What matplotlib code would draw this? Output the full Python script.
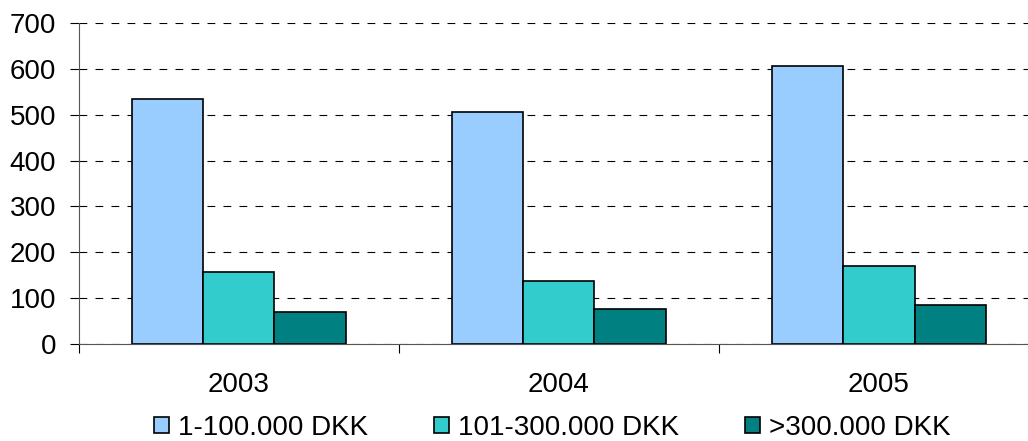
import matplotlib.pyplot as plt
import numpy as np

plt.rcParams['font.family'] = ['Liberation Sans', 'DejaVu Sans']

# Data
years = ['2003', '2004', '2005']
series_labels = ['1-100.000 DKK', '101-300.000 DKK', '>300.000 DKK']
small = [534, 505, 605]
medium = [157, 138, 171]
large = [71, 76, 85]
colors = ['#99CCFF', '#33CCCC', '#008080']

fs = 20

fig = plt.figure(figsize=(10.28, 4.41), dpi=100)
# plot area runs past the right edge of the picture, as in the original
ax = fig.add_axes([0.0768, 0.2193, 0.9339, 0.7292])

x = np.arange(len(years))
width = 0.222
for i, (vals, lab) in enumerate(zip([small, medium, large], series_labels)):
    ax.bar(x + (i - 1) * width, vals, width, color=colors[i],
           edgecolor='black', linewidth=1.2, label=lab, zorder=3)

ax.set_xlim(-0.5, 2.5)
ax.set_ylim(0, 700)
ax.set_yticks(range(0, 701, 100))
ax.yaxis.grid(True, linestyle=(0, (7, 7.4)), color='black', linewidth=0.8, zorder=0)

# category ticks at boundaries, labels in the middle
ax.set_xticks([-0.5, 0.5, 1.5, 2.5])
ax.set_xticklabels([])
ax.set_xticks(x, minor=True)
ax.set_xticklabels(years, minor=True)
ax.tick_params(axis='x', which='minor', length=0, pad=20, labelsize=fs)
ax.tick_params(axis='x', which='major', length=6.5, direction='out', color='black')
ax.tick_params(axis='y', length=6.5, direction='out', labelsize=fs, pad=10)

for s in ['top', 'right']:
    ax.spines[s].set_visible(False)
ax.spines['left'].set_color('#555555')
ax.spines['bottom'].set_color('#555555')

fig.legend(loc='center', bbox_to_anchor=(0.537, 0.03), ncol=3, frameon=False,
           fontsize=fs, handlelength=0.54, handleheight=0.54, handletextpad=0.32,
           columnspacing=2.37, borderpad=0, borderaxespad=0)

fig.savefig('out.png', dpi=100)
